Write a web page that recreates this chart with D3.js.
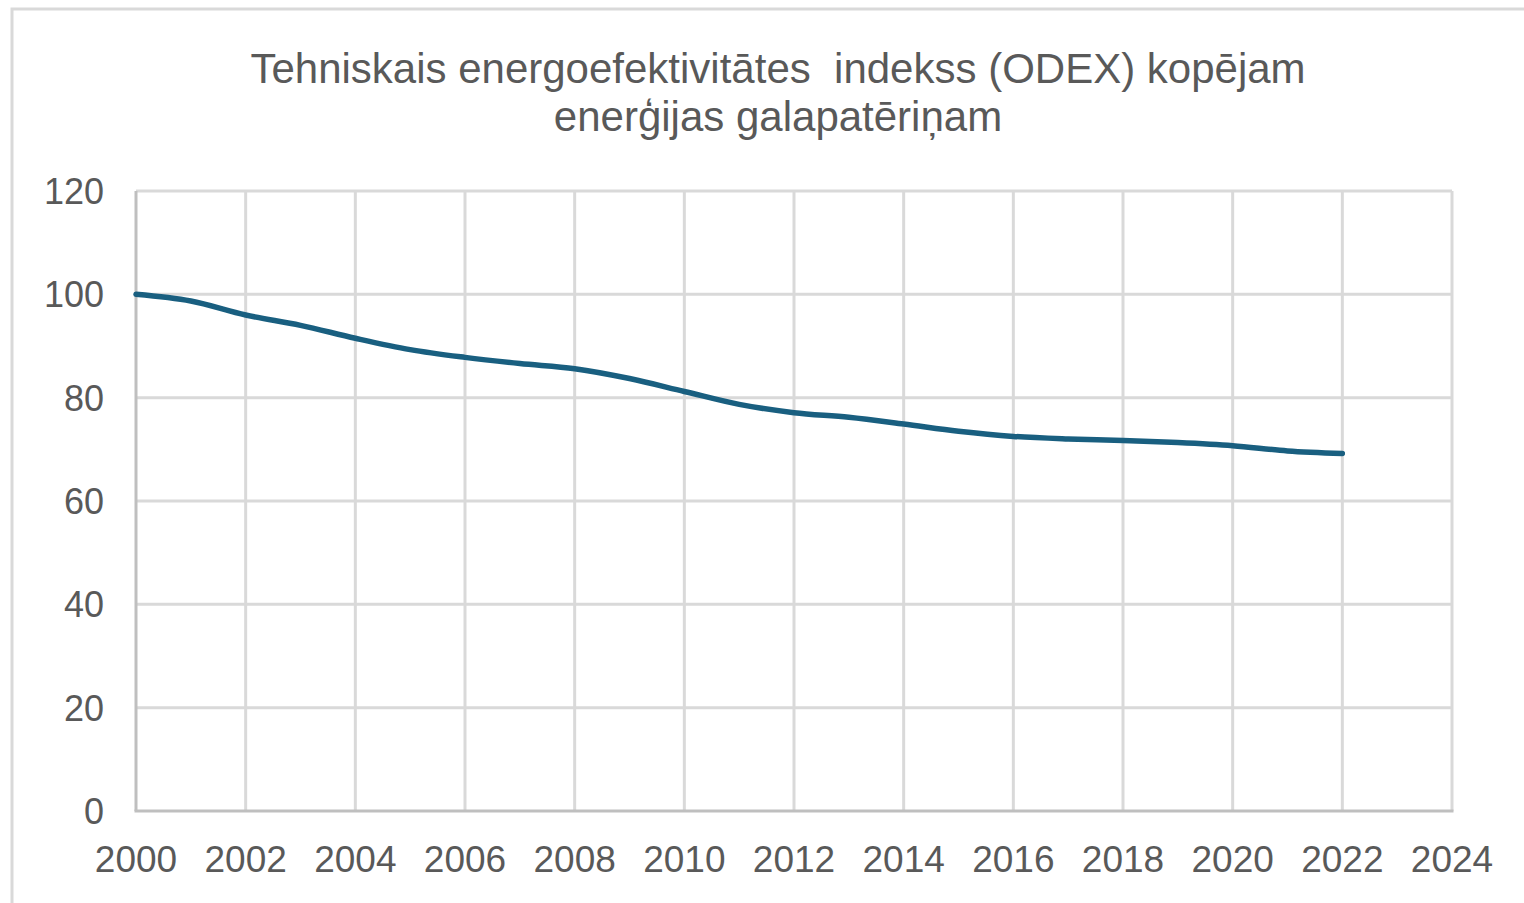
<!DOCTYPE html>
<html><head><meta charset="utf-8">
<script src="https://cdn.jsdelivr.net/npm/d3@7"></script>
<style>
html,body{margin:0;padding:0;background:#fff;}
svg{display:block;}
</style></head>
<body>
<svg id="chart" width="1524" height="903"></svg>
<script>
const titleLines = ["Tehniskais energoefektivitātes  indekss (ODEX) kopējam", "enerģijas galapatēriņam"];
const years = [2000,2001,2002,2003,2004,2005,2006,2007,2008,2009,2010,2011,2012,2013,2014,2015,2016,2017,2018,2019,2020,2021,2022];
const odex = [100,98.7,96.0,94.0,91.5,89.3,87.8,86.6,85.6,83.7,81.2,78.7,77.1,76.2,74.9,73.5,72.5,72.0,71.7,71.3,70.7,69.7,69.2];
const xTicks = [2000,2002,2004,2006,2008,2010,2012,2014,2016,2018,2020,2022,2024];
const yTicks = [0,20,40,60,80,100,120];

const svg = d3.select("#chart");
const font = "'Liberation Sans', Arial, sans-serif";

// outer border
svg.append("rect").attr("x",12).attr("y",9).attr("width",1600).attr("height",1000)
  .attr("fill","none").attr("stroke","#d9d9d9").attr("stroke-width",3);

const x = d3.scaleLinear().domain([2000,2024]).range([136,1452]);
const y = d3.scaleLinear().domain([0,120]).range([811,191]);

// title
svg.append("g").selectAll("text").data(titleLines).join("text")
  .attr("x",778).attr("y",(d,i)=>83+i*48)
  .attr("text-anchor","middle").attr("font-family",font).attr("font-size",42)
  .attr("fill","#595959").style("white-space","pre").attr("xml:space","preserve").text(d=>d);

// gridlines
svg.append("g").selectAll("line.h").data(yTicks.filter(d=>d>0)).join("line")
  .attr("x1",x(2000)).attr("x2",x(2024)).attr("y1",d=>y(d)).attr("y2",d=>y(d))
  .attr("stroke","#d9d9d9").attr("stroke-width",3);
svg.append("g").selectAll("line.v").data(xTicks.filter(d=>d>2000)).join("line")
  .attr("x1",d=>x(d)).attr("x2",d=>x(d)).attr("y1",y(0)).attr("y2",y(120))
  .attr("stroke","#d9d9d9").attr("stroke-width",3);

// axis lines
svg.append("line").attr("x1",x(2000)).attr("x2",x(2000)).attr("y1",y(0)).attr("y2",y(120))
  .attr("stroke","#bfbfbf").attr("stroke-width",3);
svg.append("line").attr("x1",x(2000)-1.5).attr("x2",x(2024)+1.5).attr("y1",y(0)).attr("y2",y(0))
  .attr("stroke","#bfbfbf").attr("stroke-width",3);

// y labels
svg.append("g").selectAll("text").data(yTicks).join("text")
  .attr("x",104).attr("y",d=>y(d)+13).attr("text-anchor","end")
  .attr("font-family",font).attr("font-size",36).attr("fill","#595959").text(d=>d);

// x labels
svg.append("g").selectAll("text").data(xTicks).join("text")
  .attr("x",d=>x(d)).attr("y",872).attr("text-anchor","middle")
  .attr("font-family",font).attr("font-size",37).attr("fill","#595959").text(d=>d);

// line
const line = d3.line().x((d,i)=>x(years[i])).y(d=>y(d)).curve(d3.curveCatmullRom.alpha(0.5));
svg.append("path").datum(odex).attr("d",line).attr("fill","none")
  .attr("stroke","#195f80").attr("stroke-width",5.5).attr("stroke-linecap","round");
</script>
</body></html>
